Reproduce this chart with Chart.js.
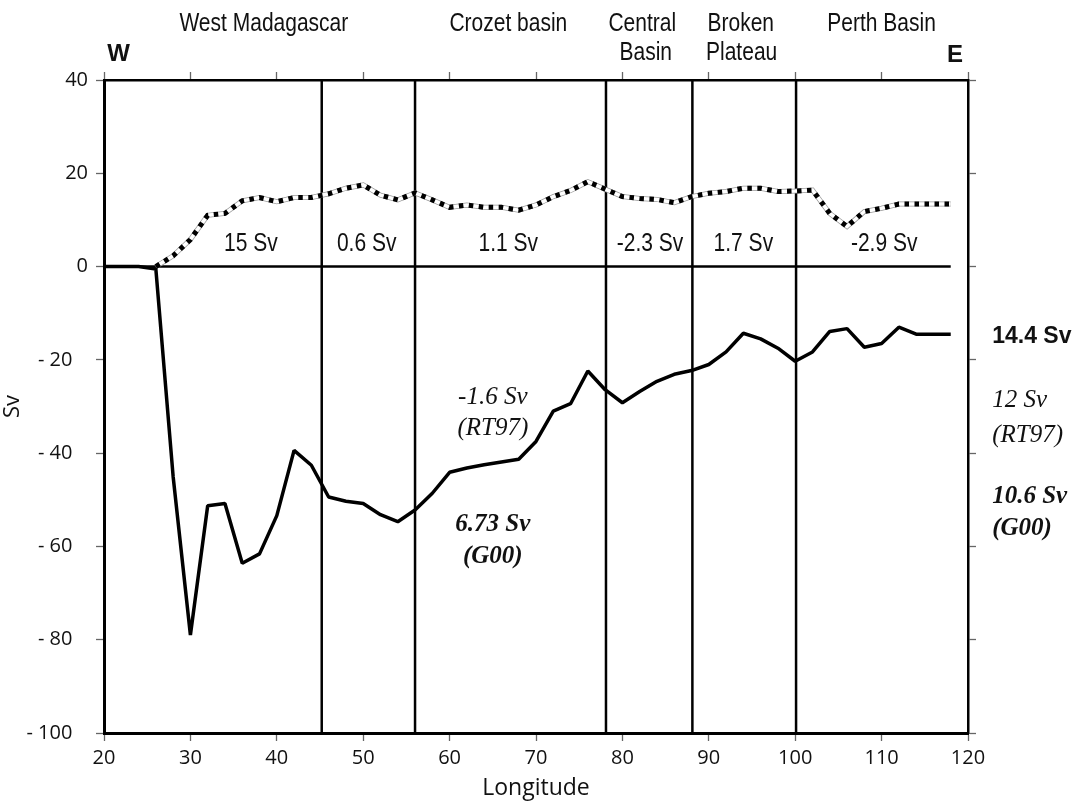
<!DOCTYPE html>
<html>
<head>
<meta charset="utf-8">
<script src="https://cdn.jsdelivr.net/npm/chart.js@4.4.1/dist/chart.umd.min.js"></script>
<style>
    html, body { margin: 0; padding: 0; background: #fff; }
    #wrap { width: 1090px; height: 805px; position: relative; }
</style>
</head>
<body>
<div id="wrap"><canvas id="transport"></canvas></div>
<script>
// longitude of each station (deg E)
const longitudes = [20, 22, 24, 26, 28, 30, 32, 34, 36, 38, 40, 42, 44, 46, 48, 50, 52, 54, 56, 58,
    60, 62, 64, 66, 68, 70, 72, 74, 76, 78, 80, 82, 84, 86, 88, 90, 92, 94, 96, 98,
    100, 102, 104, 106, 108, 110, 112, 114, 116, 118];

// cumulative transport, solid curve (Sv)
const cumulative = [0, 0, 0, -0.5, -45, -79, -51.3, -50.8, -63.6, -61.6, -53.4, -39.4, -42.6, -49.4, -50.3, -50.8, -53.2, -54.7, -52.2, -48.6,
    -44.1, -43.2, -42.5, -41.9, -41.3, -37.5, -31, -29.4, -22.4, -26.4, -29.2, -26.8, -24.6, -23.1, -22.3, -21, -18.3, -14.3, -15.5, -17.5,
    -20.3, -18.3, -13.9, -13.3, -17.3, -16.5, -13, -14.5, -14.5, -14.5];

// dotted curve (Sv), starts at 26E
const dotted = [null, null, null, 0, 2.3, 5.8, 11, 11.4, 14.1, 14.8, 13.9, 14.8, 14.8, 15.6, 16.8, 17.5, 15.3, 14.3, 15.8, 14.3,
    12.7, 13.2, 12.7, 12.7, 12.1, 13.2, 15, 16.3, 18.2, 16.6, 15, 14.6, 14.4, 13.7, 15, 15.7, 16.1, 16.8, 16.8, 16.1,
    16.2, 16.4, 11.4, 8.6, 11.8, 12.5, 13.4, 13.4, 13.4, 13.4];

// basin boundaries (deg E)
const boundaries = [45.2, 56, 78.1, 88.1, 100.1];

const yTicks = [40, 20, 0, -20, -40, -60, -80, -100];

const basinNames = [
    { text: 'West Madagascar', x: 38.5, y: 52.0 },
    { text: 'Crozet basin', x: 66.8, y: 52.0 },
    { text: 'Central', x: 82.3, y: 52.0 },
    { text: 'Basin', x: 82.7, y: 45.8 },
    { text: 'Broken', x: 93.7, y: 52.0 },
    { text: 'Plateau', x: 93.8, y: 45.8 },
    { text: 'Perth Basin', x: 110, y: 52.0 }
];

const basinTransports = [
    { text: '15 Sv', x: 37.0 },
    { text: '0.6 Sv', x: 50.4 },
    { text: '1.1 Sv', x: 66.8 },
    { text: '-2.3 Sv', x: 83.2 },
    { text: '1.7 Sv', x: 94.0 },
    { text: '-2.9 Sv', x: 110.3 }
];

const xy = (ys) => longitudes.map((x, i) => ({ x: x, y: ys[i] }));

const sans = '"Liberation Sans", Arial, sans-serif';
const serif = '"Liberation Serif", "Times New Roman", serif';

const decorations = {
    id: 'decorations',
    beforeDatasetsDraw(chart) {
        const { ctx, scales: { x, y } } = chart;
        ctx.save();
        ctx.strokeStyle = '#000';
        ctx.lineWidth = 2.5;
        boundaries.forEach(b => {
            const px = x.getPixelForValue(b);
            ctx.beginPath();
            ctx.moveTo(px, y.getPixelForValue(40));
            ctx.lineTo(px, y.getPixelForValue(-100));
            ctx.stroke();
        });
        ctx.beginPath();
        ctx.moveTo(x.getPixelForValue(20), y.getPixelForValue(0));
        ctx.lineTo(x.getPixelForValue(118), y.getPixelForValue(0));
        ctx.stroke();
        ctx.restore();
    },
    afterDraw(chart) {
        const { ctx, scales: { x, y } } = chart;
        const put = (text, xv, yv, font, align, squeeze) => {
            ctx.save();
            ctx.font = font;
            ctx.textAlign = align || 'center';
            ctx.translate(x.getPixelForValue(xv), y.getPixelForValue(yv));
            ctx.scale(squeeze || 1, 1);
            ctx.fillText(text, 0, 0);
            ctx.restore();
        };
        ctx.save();
        ctx.fillStyle = '#111';
        ctx.textBaseline = 'middle';

        // narrow Helvetica look: squeeze Liberation Sans horizontally
        basinNames.forEach(n => put(n.text, n.x, n.y, '25px ' + sans, 'center', 0.84));
        basinTransports.forEach(t => put(t.text, t.x, 4.86, '25px ' + sans, 'center', 0.84));

        put('W', 21.7, 45.4, 'bold 24px ' + sans);
        put('E', 118.5, 45.2, 'bold 24px ' + sans);

        // estimates in the middle of the section
        put('-1.6 Sv', 65.0, -28.1, 'italic 25px ' + serif);
        put('(RT97)', 65.0, -34.8, 'italic 25px ' + serif);
        put('6.73 Sv', 65.0, -55.4, 'italic bold 25px ' + serif);
        put('(G00)', 65.0, -62.2, 'italic bold 25px ' + serif);

        // totals on the right
        put('14.4 Sv', 122.8, -15.1, 'bold 23px ' + sans, 'left');
        put('12 Sv', 122.8, -28.8, 'italic 25px ' + serif, 'left');
        put('(RT97)', 122.8, -36.1, 'italic 25px ' + serif, 'left');
        put('10.6 Sv', 122.8, -49.4, 'italic bold 25px ' + serif, 'left');
        put('(G00)', 122.8, -56.2, 'italic bold 25px ' + serif, 'left');
        ctx.restore();
    }
};

const tickFont = { family: '"Open Sans", "Noto Sans", sans-serif', size: 20 };
const titleFont = { family: '"Open Sans", "Noto Sans", sans-serif', size: 23 };
const axisGrid = { drawOnChartArea: false, tickLength: 8, tickColor: '#666', tickWidth: 1.3 };

new Chart(document.getElementById('transport'), {
    type: 'line',
    data: {
        datasets: [
            { data: xy(cumulative), borderColor: '#000', borderWidth: 3.5, borderJoinStyle: 'bevel', order: 0 },
            { data: xy(dotted), borderColor: '#000', borderWidth: 5, borderDash: [4.5, 5.5], order: 1 },
            { data: xy(dotted), borderColor: '#fff', borderWidth: 3.5, order: 2 },
            { data: xy(dotted), borderColor: '#999', borderWidth: 5, order: 3 }
        ]
    },
    options: {
        responsive: true,
        maintainAspectRatio: false,
        animation: false,
        layout: { padding: 0 },
        elements: { point: { radius: 0 }, line: { tension: 0 } },
        plugins: { legend: { display: false }, tooltip: { enabled: false } },
        scales: {
            x: {
                type: 'linear', position: 'bottom', min: 20, max: 120,
                ticks: { stepSize: 10, color: '#111', font: tickFont, padding: 5, maxRotation: 0 },
                grid: axisGrid,
                border: { color: '#000', width: 3 },
                title: { display: true, text: 'Longitude', color: '#111', font: titleFont, padding: { top: 0, bottom: 3 } },
                afterFit: (s) => { s.height = 72; }
            },
            x2: {
                type: 'linear', position: 'top', min: 20, max: 120,
                ticks: { stepSize: 10, display: false },
                grid: axisGrid,
                border: { color: '#000', width: 2.5 },
                afterFit: (s) => { s.height = 80; }
            },
            y: {
                type: 'linear', position: 'left', min: -100, max: 40,
                afterBuildTicks: (s) => { s.ticks = yTicks.map(v => ({ value: v })); },
                ticks: {
                    color: '#111', font: tickFont, padding: 8,
                    callback: (v) => v < 0 ? '- ' + Math.abs(v) + '   ' : String(v)
                },
                grid: axisGrid,
                border: { color: '#000', width: 3 },
                title: { display: true, text: 'Sv', color: '#111', font: { family: '"Open Sans", "Noto Sans", sans-serif', size: 22 }, padding: { top: 0, bottom: 7 } },
                afterFit: (s) => { s.width = 104; }
            },
            y2: {
                type: 'linear', position: 'right', min: -100, max: 40,
                afterBuildTicks: (s) => { s.ticks = yTicks.map(v => ({ value: v })); },
                ticks: { display: false },
                grid: axisGrid,
                border: { color: '#000', width: 2.5 },
                afterFit: (s) => { s.width = 122; }
            }
        }
    },
    plugins: [decorations]
});
</script>
</body>
</html>
